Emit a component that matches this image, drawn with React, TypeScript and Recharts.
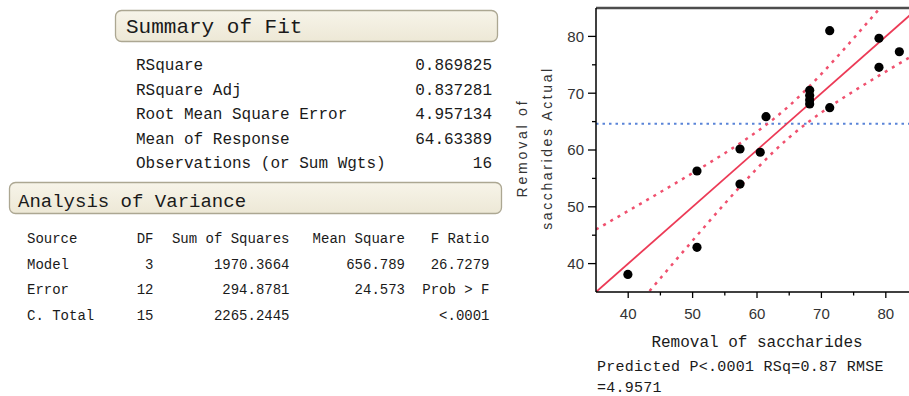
import React from 'react';
import { ComposedChart, XAxis, YAxis, Scatter, Line, ReferenceLine } from 'recharts';

// Actual by Predicted data
const predicted = [50.68, 57.36, 57.36, 60.5, 61.4, 68.18, 68.18, 68.18, 68.18, 71.29, 71.29, 78.94, 78.94, 82.1, 39.95, 50.68];
const actual = [56.3, 60.18, 54.0, 59.6, 65.86, 70.5, 69.6, 68.8, 68.1, 81.0, 67.45, 79.67, 74.56, 77.3, 38.1, 42.87];

// Fit line (actual = predicted)
const fitX = [35, 84];
const fitY = [35, 84];

// Confidence curves
const bandX = [35, 37.5, 40, 42.5, 45, 47.5, 50, 52.5, 55, 57.5, 60, 62.5, 65, 67.5, 70, 72.5, 75, 77.5, 80, 82.5, 85];
const upperBand = [46.0, 47.64, 49.28, 50.92, 52.58, 54.26, 55.95, 57.67, 59.44, 61.29, 63.25, 65.39, 67.79, 70.48, 73.39, 76.47, 79.65, 82.9, 86.19, 89.5, 92.83];
const lowerBand = [24.0, 27.36, 30.72, 34.08, 37.42, 40.74, 44.05, 47.33, 50.56, 53.71, 56.75, 59.61, 62.21, 64.52, 66.61, 68.53, 70.35, 72.1, 73.81, 75.5, 77.17];

const meanResponse = 64.63389;
const xTicks = [40, 45, 50, 55, 60, 65, 70, 75, 80];
const yTicks = [40, 45, 50, 55, 60, 65, 70, 75, 80];

const summaryLabels = ['RSquare', 'RSquare Adj', 'Root Mean Square Error', 'Mean of Response', 'Observations (or Sum Wgts)'];
const summaryValues = ['0.869825', '0.837281', '4.957134', '64.63389', '16'];

const anovaHeader = ['Source', 'DF', 'Sum of Squares', 'Mean Square', 'F Ratio'];
const anovaRows = [
  ['Model', '3', '1970.3664', '656.789', '26.7279'],
  ['Error', '12', '294.8781', '24.573', 'Prob > F'],
  ['C. Total', '15', '2265.2445', '', '<.0001'],
];

const points = predicted.map((x, i) => ({ x, y: actual[i] }));
const fitLine = fitX.map((x, i) => ({ x, y: fitY[i] }));
const upperLine = bandX.map((x, i) => ({ x, y: upperBand[i] }));
const lowerLine = bandX.map((x, i) => ({ x, y: lowerBand[i] }));

const MONO = '"Liberation Mono", "DejaVu Sans Mono", monospace';
const SANS = '"Liberation Sans", Arial, sans-serif';
const RED = '#ec3a56';

const XTick = (props: any) => {
  const { x, y, payload } = props;
  const v = payload.value;
  const major = v % 10 === 0;
  const axisY = y - 8;
  return (
    <g>
      <line x1={x} x2={x} y1={axisY} y2={axisY + (major ? 6 : 3.5)} stroke="#000" strokeWidth={1.3} />
      {major && (
        <text x={x} y={axisY + 27} textAnchor="middle" fontSize={15} fontFamily={SANS} fill="#333">
          {v}
        </text>
      )}
    </g>
  );
};

const YTick = (props: any) => {
  const { x, y, payload } = props;
  const v = payload.value;
  const major = v % 10 === 0;
  const axisX = x + 12;
  return (
    <g>
      <line x1={axisX - (major ? 8 : 4)} x2={axisX} y1={y} y2={y} stroke="#000" strokeWidth={1.3} />
      {major && (
        <text x={axisX - 12} y={y} dy="0.36em" textAnchor="end" fontSize={15} fontFamily={SANS} fill="#333">
          {v}
        </text>
      )}
    </g>
  );
};

const summaryBase = [70, 94.6, 119.2, 143.8, 168.4];
const anovaBase = [242.5, 268.5, 294.3, 320];
const anovaRight = [0, 153.5, 289.5, 405, 489.5];

export default function App() {
  return (
    <div style={{ position: 'absolute', left: 0, top: 0, width: 909, height: 396, background: '#fff', overflow: 'hidden' }}>
      <svg width={909} height={396} style={{ position: 'absolute', left: 0, top: 0 }}>
        <defs>
          <linearGradient id="hdr" x1="0" y1="0" x2="0" y2="1">
            <stop offset="0" stopColor="#f7f4e9" />
            <stop offset="1" stopColor="#ede8d6" />
          </linearGradient>
        </defs>
        {/* Summary of Fit */}
        <rect x={115.5} y={10.5} width={382} height={31} rx={6} fill="url(#hdr)" stroke="#aca792" strokeWidth={1.3} />
        <text x={126} y={33.3} fontSize={21} fontFamily={MONO} fill="#1a1a1a">Summary of Fit</text>
        {summaryLabels.map((l, i) => (
          <text key={'sl' + i} x={136} y={summaryBase[i]} fontSize={16} fontFamily={MONO} fill="#1a1a1a">{l}</text>
        ))}
        {summaryValues.map((v, i) => (
          <text key={'sv' + i} x={492} y={summaryBase[i]} textAnchor="end" fontSize={16} fontFamily={MONO} fill="#1a1a1a">{v}</text>
        ))}
        {/* Analysis of Variance */}
        <rect x={9.5} y={182.5} width={492} height={31} rx={6} fill="url(#hdr)" stroke="#aca792" strokeWidth={1.3} />
        <text x={18} y={206.7} fontSize={19} fontFamily={MONO} fill="#1a1a1a">Analysis of Variance</text>
        {[anovaHeader, ...anovaRows].map((row, r) =>
          row.map((cell, c) => (
            <text
              key={'a' + r + '-' + c}
              x={c === 0 ? 27 : anovaRight[c]}
              y={anovaBase[r]}
              textAnchor={c === 0 ? 'start' : 'end'}
              fontSize={14}
              fontFamily={MONO}
              fill="#1a1a1a"
            >
              {cell}
            </text>
          ))
        )}
        {/* Y axis title */}
        <text x={522} y={148} transform="rotate(-90 522 148)" textAnchor="middle" dominantBaseline="central" fontSize={14} letterSpacing={2.8} fontFamily={SANS} fill="#333">Removal of</text>
        <text x={547} y={148} transform="rotate(-90 547 148)" textAnchor="middle" dominantBaseline="central" fontSize={14} letterSpacing={2.6} fontFamily={SANS} fill="#333">saccharides Actual</text>
        {/* X axis title and subtitle */}
        <text x={757} y={346.5} textAnchor="middle" fontSize={16} fontFamily={MONO} fill="#1a1a1a">Removal of saccharides</text>
        <text x={597} y={371.2} fontSize={15} letterSpacing={0.25} fontFamily={MONO} fill="#1a1a1a">Predicted P&lt;.0001 RSq=0.87 RMSE</text>
        <text x={597} y={391.5} fontSize={15} letterSpacing={0.25} fontFamily={MONO} fill="#1a1a1a">=4.9571</text>
      </svg>
      <div style={{ position: 'absolute', left: 500, top: 0 }}>
        <ComposedChart width={409} height={330} margin={{ top: 8, right: 0, bottom: 8, left: 36 }}>
          <XAxis
            type="number"
            dataKey="x"
            domain={[35, 83.6]}
            allowDataOverflow
            ticks={xTicks}
            interval={0}
            height={30}
            tickSize={6}
            tickMargin={2}
            tickLine={false}
            tick={<XTick />}
            axisLine={{ stroke: '#000', strokeWidth: 1.5 }}
          />
          <YAxis
            type="number"
            dataKey="y"
            domain={[35, 85]}
            allowDataOverflow
            ticks={yTicks}
            interval={0}
            width={60}
            tickSize={8}
            tickMargin={4}
            tickLine={false}
            tick={<YTick />}
            axisLine={{ stroke: '#000', strokeWidth: 1.5 }}
          />
          <ReferenceLine y={85} stroke="#4d4d4d" strokeWidth={2.6} />
          <ReferenceLine y={meanResponse} stroke="#5a84d8" strokeWidth={2} strokeDasharray="2.5 4" />
          <Line data={upperLine} dataKey="y" type="monotone" stroke="#f0506e" strokeWidth={2.5} strokeDasharray="3 5.3" dot={false} activeDot={false} isAnimationActive={false} />
          <Line data={lowerLine} dataKey="y" type="monotone" stroke="#f0506e" strokeWidth={2.5} strokeDasharray="3 5.3" dot={false} activeDot={false} isAnimationActive={false} />
          <Line data={fitLine} dataKey="y" type="linear" stroke={RED} strokeWidth={1.8} dot={false} activeDot={false} isAnimationActive={false} />
          <Scatter
            data={points}
            dataKey="y"
            isAnimationActive={false}
            shape={(p: any) => <circle cx={p.cx} cy={p.cy} r={4.6} fill="#000" />}
          />
        </ComposedChart>
      </div>
    </div>
  );
}
